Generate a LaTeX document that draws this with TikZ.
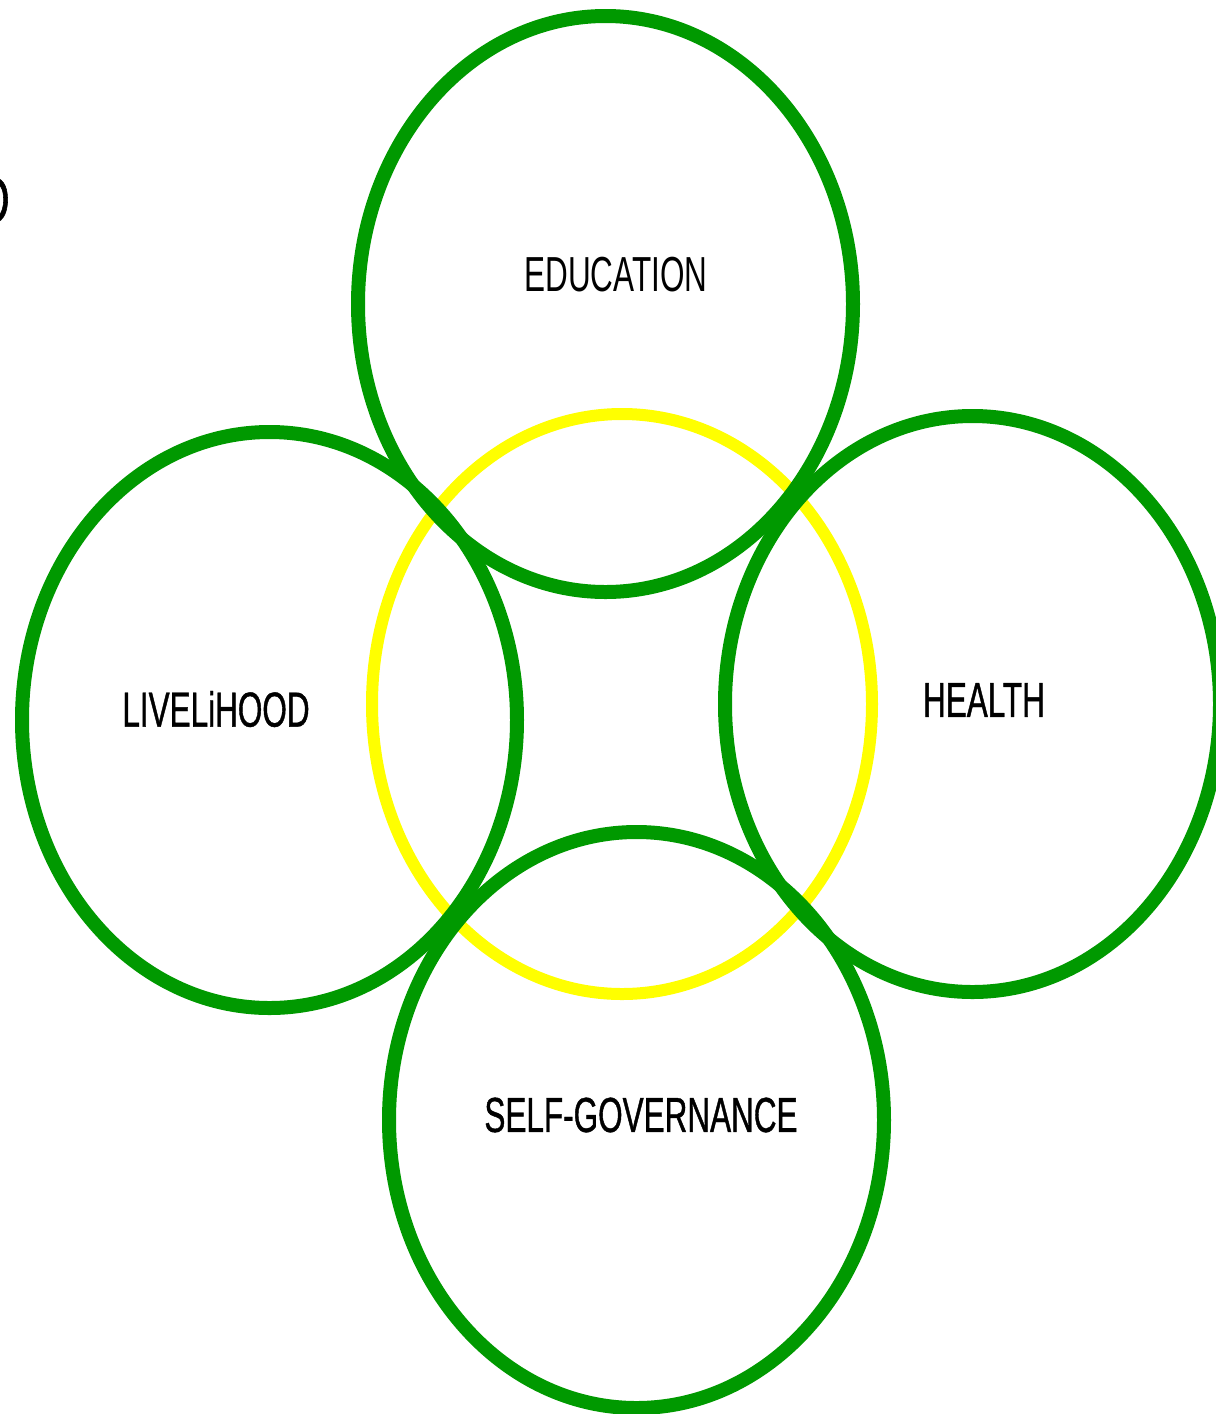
\documentclass[tikz,border=0pt]{standalone}
\usepackage{fontspec}
\newfontfamily\labelfont[FakeStretch=0.64]{Liberation Sans}
\newfontfamily\heavyfont[FakeStretch=0.64, FakeBold=0.8]{Liberation Sans}
\definecolor{ringgreen}{RGB}{0,153,0}
\definecolor{ringyellow}{RGB}{255,255,0}
\tikzset{
    ring/.style={draw=ringgreen, line width=0.28cm},
    core/.style={draw=ringyellow, line width=0.24cm},
    area/.style={font=\labelfont\fontsize{28}{30}\selectfont, inner sep=0pt},
    heavyarea/.style={area, font=\heavyfont\fontsize{28}{30}\selectfont}
}
\begin{document}
\begin{tikzpicture}[x=0.02cm, y=-0.02cm]
    \useasboundingbox (0, 0) rectangle (1216, 1414);
    \clip (0, 0) rectangle (1216, 1414);

    % Centre ring
    \draw[core] (622, 704) ellipse [x radius=250, y radius=290];

    % Outer rings
    \foreach \x/\y in {605.5/304, 269.5/720, 972.5/704, 636.5/1120} {
        \draw[ring] (\x, \y) ellipse [x radius=247.5, y radius=288];
    }

    \node[area] (education) at (616, 275) {EDUCATION};
    \node[heavyarea] (livelihood) at (216, 709) {LIVELiHOOD};
    \node[heavyarea] (health) at (984, 700) {HEALTH};
    \node[heavyarea] (selfgov) at (641, 1115) {SELF-GOVERNANCE};

    % Cut-off letter at the left edge
    \node[area, font=\heavyfont\fontsize{38}{40}\selectfont, anchor=east]
        (cut) at (10, 200) {D};
\end{tikzpicture}
\end{document}
